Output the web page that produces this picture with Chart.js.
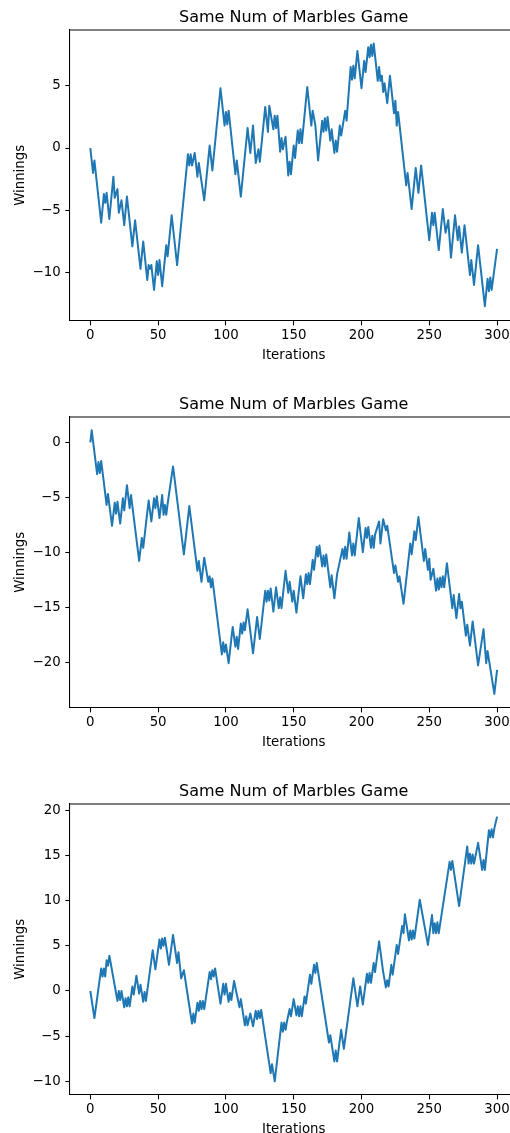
<!DOCTYPE html>
<html>
<head>
<meta charset="utf-8">
<script src="https://cdn.jsdelivr.net/npm/chart.js@4.4.0/dist/chart.umd.min.js"></script>
<style>
  html, body { margin: 0; padding: 0; background: #fff; overflow: hidden; }
  body { width: 510px; height: 1133px; position: relative; }
  canvas { position: absolute; left: 0; }
</style>
</head>
<body>
<canvas id="game1" width="520" height="387" style="top:0px"></canvas>
<canvas id="game2" width="520" height="387" style="top:387px"></canvas>
<canvas id="game3" width="520" height="387" style="top:774px"></canvas>
<script>
const FONT = 'DejaVu Sans';
const chartTitle = 'Same Num of Marbles Game';
const xLabel = 'Iterations';
const yLabel = 'Winnings';
const xTicks = [0, 50, 100, 150, 200, 250, 300];

// game 1 (turning points of the walk: iteration, winnings)
const game1Iter = [0,2,3,8,10,11,12,14,17,18, 20,21,23,25,27,31,33,37,39,42, 43,44,45,47,49,50,51,53,56,57,
  60,64,72,73,74,75,77,79,80,84, 88,90,96,99,100,101,102,107,108,111, 116,118,120,122,124,125,129,131,132,135,
  136,137,138,140,141,142,144,146,147,148, 150,151,153,154,155,156,160,163,164,166, 168,171,172,173,174,175,177,178,180,181,
  182,184,185,188,189,192,193,194,195,197, 200,202,203,205,206,207,208,209,212,213, 214,215,216,217,219,221,224,225,226,227,
  233,234,237,240,242,244,250,252,253,254, 257,260,262,264,266,269,271,272,274,276, 280,281,283,286,291,293,294,295,296,300];
const game1Win = [0,-2,-1,-6,-3.7,-4.4,-3.6,-5.7,-2.3,-4, -3.3,-5.2,-4.2,-6.2,-3.9,-7.9,-5.8,-9.7,-7.5,-10.6, -9.4,-9.7,-9.4,-11.4,-9.1,-10.2,-9,-11.1,-7.8,-8.7,
  -5.4,-9.4,-0.5,-1.4,-0.5,-1.4,-0.4,-2.3,-1.2,-4.2, 0.2,-1.8,4.8,1.8,2.9,1.9,3,-2.1,-1,-3.9, 1.6,-0.4,1.8,-1.2,-0.1,-1.1,3.3,1.3,3.4,1.5,
  2.6,1.6,2.6,-0.3,0.8,-0.1,0.9,-2.2,-1.1,-2.1, 0.2,-0.8,1.4,0.4,1.5,0.4,4.9,1.8,3,1.8, -1,2.2,1.3,2.4,1.4,2.5,0.6,1.5,-0.4,0.6,
  -0.3,1.8,1,3,2.2,6.5,5.5,6.6,5.6,7.8, 4.8,7,6.1,8.1,7.3,8.3,7.4,8.4,5.4,6.5, 5.4,5.8,4.5,5.2,3.6,5.8,2.8,3.8,1.8,2.9,
  -3,-2,-4.9,-1.6,-3.6,-1.4,-7.4,-5.2,-6.2,-5.2, -8.2,-4.9,-6.8,-5.8,-8.8,-5.4,-7.4,-6.3,-8.4,-6.2, -10.2,-9,-11,-7.8,-12.7,-10.5,-11.5,-10.4,-11.4,-8.1];
const game1Ticks = [-10, -5, 0, 5];
const game1Range = [-13.87, 9.48];

// game 2
const game2Iter = [0,1,5,6,7,8,12,13,16,18, 19,20,22,24,25,27,29,30,36,38, 39,43,45,47,48,49,51,53,54,55,
  56,57,61,69,73,79,80,82,84,87, 88,89,90,97,98,99,100,102,105,107, 108,109,111,112,113,114,116,120,123,125,
  129,130,131,132,133,135,137,139,140,141, 144,146,147,149,150,152,155,157,159,160, 161,162,164,165,167,168,169,171,172,173,
  174,177,178,180,182,186,187,188,189,191, 193,194,195,198,201,203,204,205,207,208, 209,210,213,214,216,218,219,224,225,227,
  228,231,236,237,239,240,242,246,247,249, 250,251,253,255,256,257,258,259,260,261, 263,267,268,270,272,273,274,277,278,280,
  282,286,290,292,293,298,300];
const game2Win = [0,1.1,-2.9,-1.8,-2.8,-1.7,-5.7,-4.7,-7.6,-5.5, -6.5,-5.4,-7.4,-5.1,-6.2,-3.9,-6,-4.8,-10.8,-8.7, -9.6,-5.3,-7.2,-5.1,-6,-4.9,-6.9,-4.8,-6.6,-5.7,
  -6.6,-5.6,-2.2,-10.2,-5.8,-11.7,-10.8,-12.7,-10.5,-12.7, -12.2,-13.2,-12.4,-19.3,-18.2,-19.1,-18.4,-20.1,-16.8,-18.6, -17.7,-18.8,-16.5,-17.4,-16.4,-17.1,-15.2,-19.2,-15.9,-17.9,
  -13.5,-14.5,-13.5,-14.4,-13.3,-15.4,-13.2,-15.1,-14.1,-15.1, -11.7,-13.7,-12.7,-14.5,-13.5,-15.5,-12.2,-14.2,-12,-12.9, -11.9,-12.9,-10.7,-11.6,-9.5,-10.4,-9.4,-11.3,-10.3,-11.3,
  -10.2,-13.2,-12.1,-14.2,-12,-9.7,-10.6,-9.5,-10.6,-8.2, -10.3,-9.2,-10.3,-6.9,-10,-7.8,-8.7,-7.7,-9.6,-8.5, -9.6,-8.4,-7.2,-9.2,-7,-8,-7.6,-11.9,-11.2,-12.7,
  -12.2,-14.7,-9.2,-10.2,-8.1,-8.9,-6.8,-10.8,-9.7,-11.6, -10.6,-12.5,-11.5,-13.5,-12.4,-13.4,-12.3,-13.2,-12.2,-13.2, -11,-15.1,-13.9,-16,-13.8,-15.1,-14.5,-17.6,-16.6,-18.5,
  -16.3,-20.3,-17,-20.1,-19,-22.9,-20.7];
const game2Ticks = [-20, -15, -10, -5, 0];
const game2Range = [-24.15, 2.3];

// game 3
const game3Iter = [0,3,8,9,10,11,12,13,14,15, 20,21,22,23,25,26,27,28,29,30, 31,32,34,36,37,39,40,41,46,48,
  51,52,53,54,55,56,58,61,64,65, 67,69,70,75,76,77,79,80,81,82, 83,84,85,88,89,90,91,92,96,98,
  99,100,102,103,104,106,110,111,114,115, 116,118,120,122,123,124,125,126,133,134, 136,141,142,143,144,145,147,148,150,152,
  153,154,155,156,158,159,162,163,165,166, 167,176,177,180,181,182,185,187,194,197, 199,201,204,205,206,207,209,210,213,216,
  218,219,220,222,223,226,227,230,231,232, 234,235,236,237,238,239,243,249,252,253, 254,255,256,257,258,265,266,267,272,278,
  279,280,281,282,283,286,289,290,291,294, 295,296,297,298,300];
const game3Win = [0,-3,2.5,1.6,2.5,1.6,3.4,2.8,3.9,3.1, -1.1,0,-1,0,-1.8,-0.8,-1.7,-0.7,-1.7,-0.6, 0.5,-0.4,1.7,-0.3,0.7,-1.2,-0.1,-1.1,4.5,2.4,
  5.7,4.7,5.8,5,5.9,4.9,2.9,6.2,3.1,4.3, 1.4,2.3,1.3,-3.6,-2.5,-3.5,-1.3,-2.2,-1.1,-2, -1.1,-2,-1,2.1,1.3,2.3,1.6,2.5,-1.4,0.8,
  -0.4,0.8,-1.2,-0.2,-1,1.1,-1.8,-0.9,-3.8,-2.8, -3.8,-2.5,-3.9,-2.2,-3.1,-2.2,-3,-2.1,-9.1,-8.1, -10,-3.5,-4.5,-3.5,-4.3,-3.4,-2,-2.8,-0.9,-2.7,
  -1.7,-2.8,-1.7,-2.8,-0.6,-1.4,1.8,0.8,2.9,2, 3.1,-5.7,-4.9,-7.8,-6.6,-7.8,-4.3,-6.4,1.4,-1.7, 0.5,-1.5,1.9,0.9,2,0.9,3.1,2.1,5.5,2.1,
  0.4,1.2,0.5,2.9,1.8,5.1,4.1,7.2,6.4,8.5, 6.6,5.6,6.7,5.7,6.7,5.8,10.1,5.1,8.4,6.4, 7.5,6.4,7.6,6.4,7.4,14.3,13.4,14.4,9.4,16,
  14.1,15.2,14.1,15.1,14.1,16.4,13.4,14.5,13.4,17.8, 17,17.9,17,18,19.3];
const game3Ticks = [-10, -5, 0, 5, 10, 15, 20];
const game3Range = [-11.48, 20.7];

const minus = v => String(v).replace('-', '\u2212');

// matplotlib draws the whole box and centres the title over the axes
const frame = {
    id: 'frame',
    afterDraw(chart) {
        const { ctx, chartArea: {left, right, top, bottom} } = chart;
        ctx.save();
        ctx.strokeStyle = '#000';
        ctx.lineWidth = 1.07;
        ctx.beginPath();
        ctx.moveTo(left, top);
        ctx.lineTo(right, top);
        ctx.lineTo(right, bottom);
        ctx.stroke();

        ctx.fillStyle = '#000';
        ctx.font = '16px "DejaVu Sans"';
        ctx.textAlign = 'center';
        ctx.textBaseline = 'alphabetic';
        ctx.fillText(chartTitle, (left + right) / 2, top - 8);
        ctx.restore();
    }
};

function makeChart(id, iters, wins, yTicks, yRange) {
    new Chart(document.getElementById(id), {
        type: 'line',
        data: {
            datasets: [{
                data: iters.map((x, i) => ({ x: x, y: wins[i] })),
                borderColor: '#1f77b4',
                borderWidth: 2,
                borderJoinStyle: 'round',
                pointRadius: 0,
                tension: 0,
                fill: false
            }]
        },
        options: {
            responsive: false,
            animation: false,
            devicePixelRatio: 1,
            layout: { padding: { left: 0, right: 2.6, top: 30, bottom: 0 } },
            plugins: {
                legend: { display: false },
                tooltip: { enabled: false },
                title: { display: false }
            },
            scales: {
                x: {
                    type: 'linear',
                    min: -15,
                    max: 315,
                    afterBuildTicks: s => { s.ticks = xTicks.map(value => ({ value })); },
                    afterFit: s => { s.height = 66.3; },
                    grid: { drawOnChartArea: false, drawTicks: true, tickLength: 4.67, tickColor: '#000', tickWidth: 1.07 },
                    border: { display: true, color: '#000', width: 1.07 },
                    ticks: { color: '#000', font: { family: FONT, size: 13.33 }, padding: 2.1, maxRotation: 0, autoSkip: false, callback: v => minus(v) },
                    title: { display: true, text: xLabel, color: '#000', font: { family: FONT, size: 13.33 }, padding: { top: 0, bottom: 23.6 } }
                },
                y: {
                    type: 'linear',
                    min: yRange[0],
                    max: yRange[1],
                    afterBuildTicks: s => { s.ticks = yTicks.map(value => ({ value })); },
                    afterFit: s => { s.width = 70; },
                    grid: { drawOnChartArea: false, drawTicks: true, tickLength: 4.67, tickColor: '#000', tickWidth: 1.07 },
                    border: { display: true, color: '#000', width: 1.07 },
                    ticks: { color: '#000', font: { family: FONT, size: 13.33 }, padding: 4.67, autoSkip: false, callback: v => minus(v) },
                    title: { display: true, text: yLabel, color: '#000', font: { family: FONT, size: 13.33 }, padding: { top: 12.5, bottom: 0 } }
                }
            }
        },
        plugins: [frame]
    });
}

makeChart('game1', game1Iter, game1Win, game1Ticks, game1Range);
makeChart('game2', game2Iter, game2Win, game2Ticks, game2Range);
makeChart('game3', game3Iter, game3Win, game3Ticks, game3Range);
</script>
</body>
</html>
